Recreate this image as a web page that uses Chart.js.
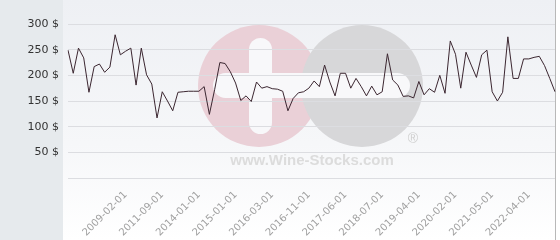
<!DOCTYPE html>
<html>
<head>
<meta charset="utf-8">
<script src="https://cdn.jsdelivr.net/npm/chart.js@4.4.0/dist/chart.umd.min.js"></script>
<style>
    html, body { margin: 0; padding: 0; background: #fff; }
    #wrap {
        position: relative; width: 560px; height: 240px;
        background: linear-gradient(to right, #e6eaed 0, #e6eaed 63px, transparent 63px);
    }
    #bg {
        position: absolute; left: 63px; top: 0; width: 492px; height: 240px;
        background: linear-gradient(to bottom, #eef0f4 0%, #f6f7f9 60%, #ffffff 100%);
        border-right: 1px solid #b8b8b8;
    }
    #chart { position: absolute; left: 0; top: 0; }
</style>
</head>
<body>
<div id="wrap">
    <div id="bg"></div>
    <canvas id="chart" width="560" height="240"></canvas>
</div>
<script>
// monthly prices, one per point
var prices = [
    249, 204, 253, 234, 167, 217, 222, 206, 216, 279,
    240, 247, 253, 181, 253, 201, 183, 117, 168, 150,
    131, 167, 168, 169, 169, 169, 178, 124, 172, 225,
    223, 207, 185, 151, 160, 149, 187, 175, 178, 174,
    173, 169, 131, 155, 166, 168, 175, 189, 178, 220,
    187, 160, 204, 204, 175, 194, 178, 160, 179, 162,
    168, 242, 191, 181, 159, 160, 156, 188, 162, 174,
    167, 200, 165, 267, 241, 175, 245, 220, 196, 240,
    249, 168, 150, 167, 275, 194, 194, 232, 232, 235,
    237, 219, 194, 168
];
// dates shown on the x axis (every 7th point from point 11)
var tickDates = [
    "2009-02-01", "2011-09-01", "2014-01-01", "2015-01-01",
    "2016-03-01", "2016-11-01", "2017-06-01", "2018-07-01",
    "2019-04-01", "2020-02-01", "2021-05-01", "2022-04-01"
];
var firstTick = 11;
var tickStep = 7;
var yTicks = [50, 100, 150, 200, 250, 300];

var labels = prices.map(function (v, i) {
    var k = (i - firstTick) / tickStep;
    if (i >= firstTick && k % 1 === 0 && tickDates[k]) {
        return tickDates[k];
    }
    return "";
});

// the wine-stocks logo behind the plot
var watermark = {
    id: "watermark",
    beforeDraw: function (chart) {
        var ctx = chart.ctx;
        ctx.save();
        ctx.fillStyle = "#ead0d7";
        ctx.beginPath();
        ctx.arc(259, 86, 61, 0, Math.PI * 2);
        ctx.fill();
        ctx.fillStyle = "#d7d7d9";
        ctx.beginPath();
        ctx.arc(362, 86, 61, 0, Math.PI * 2);
        ctx.fill();
        ctx.fillStyle = "#f8f8fa";
        ctx.beginPath();
        ctx.roundRect(249, 38, 23, 96, 11.5);
        ctx.fill();
        ctx.beginPath();
        ctx.roundRect(213, 73, 197, 25, 12.5);
        ctx.fill();
        ctx.fillStyle = "#dcdcdc";
        ctx.font = "bold 15px 'Liberation Sans', Arial, sans-serif";
        ctx.textAlign = "center";
        ctx.textBaseline = "alphabetic";
        ctx.fillText("www.Wine-Stocks.com", 312, 165);
        ctx.fillStyle = "#cfcfcf";
        ctx.font = "14px 'Liberation Sans', Arial, sans-serif";
        ctx.fillText("\u00AE", 413, 143);
        ctx.restore();
    }
};

Chart.defaults.font.family = "'DejaVu Sans', Verdana, sans-serif";

new Chart("chart", {
    type: "line",
    data: {
        labels: labels,
        datasets: [{
            data: prices,
            borderColor: "#3b2630",
            borderWidth: 1,
            pointRadius: 0,
            tension: 0,
            fill: false
        }]
    },
    options: {
        responsive: false,
        animation: false,
        layout: { padding: { top: 24, right: 5, left: 0, bottom: 0 } },
        plugins: {
            legend: { display: false },
            tooltip: { enabled: false }
        },
        scales: {
            x: {
                grid: { display: false, drawTicks: false },
                border: { display: false },
                ticks: {
                    autoSkip: false,
                    minRotation: 45,
                    maxRotation: 45,
                    padding: 11,
                    color: "#a0a0a0",
                    font: { size: 10 }
                },
                afterFit: function (scale) {
                    scale.height = 62;
                    scale.paddingLeft = 0;
                    scale.paddingRight = 0;
                }
            },
            y: {
                min: 0,
                max: 300,
                grid: { color: "#dcdde1", drawTicks: false },
                border: { display: false },
                afterBuildTicks: function (scale) {
                    scale.ticks = [{ value: 0 }].concat(yTicks.map(function (v) {
                        return { value: v };
                    }));
                },
                ticks: {
                    padding: 9,
                    color: "#333333",
                    font: { size: 11 },
                    callback: function (value) {
                        return value === 0 ? "" : value + " $";
                    }
                },
                afterFit: function (scale) {
                    scale.width = 68;
                }
            }
        }
    },
    plugins: [watermark]
});
</script>
</body>
</html>
